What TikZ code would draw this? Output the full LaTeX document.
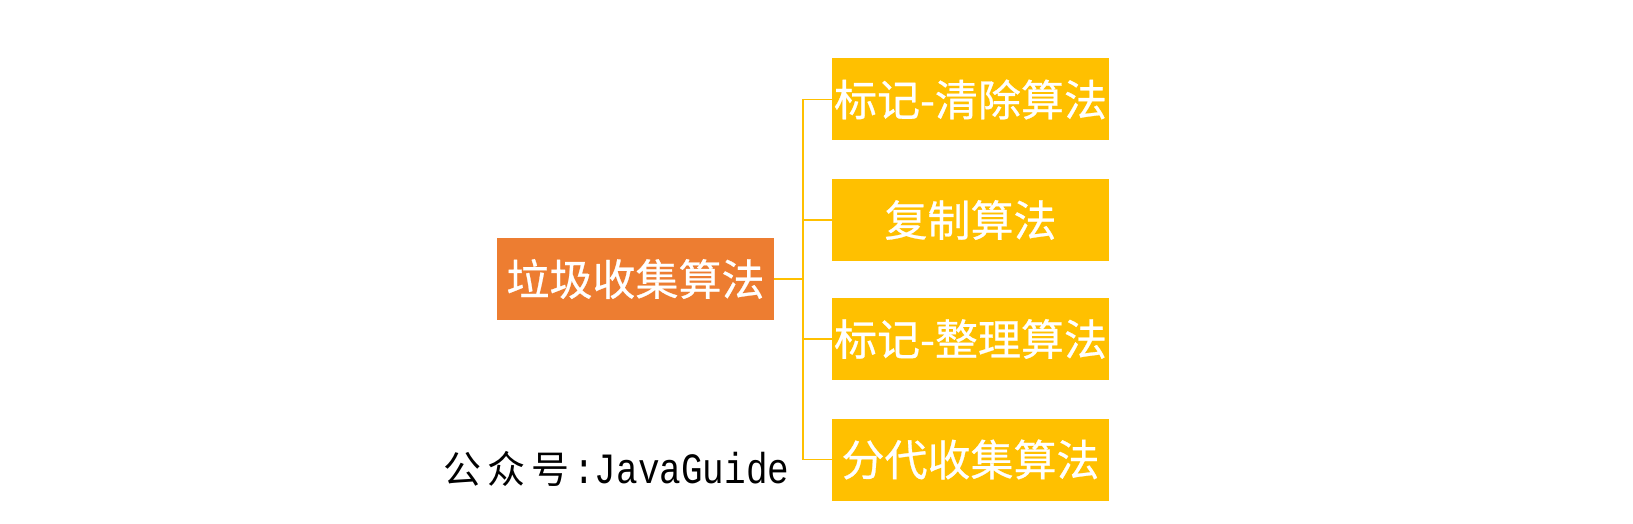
\documentclass[tikz,border=0pt]{standalone}
\usepackage{fontspec}
\setmainfont{Noto Sans CJK SC}
\newfontfamily\cjkfont[FakeBold=0.6]{Noto Sans CJK SC}
\newfontfamily\wmcjkfont{Noto Sans CJK SC}
\newfontfamily\monofont{Liberation Mono}
\definecolor{rootorange}{HTML}{ED7D31}
\definecolor{leafyellow}{HTML}{FFC000}
\definecolor{linkyellow}{HTML}{FFC000}
\tikzset{
  box/.style={minimum width=277pt, minimum height=82pt, inner sep=0pt, text=white,
    font=\cjkfont\fontsize{43}{43}\selectfont},
  rootbox/.style={box, fill=rootorange},
  leafbox/.style={box, fill=leafyellow},
  link/.style={draw=linkyellow, line width=1.8pt}
}
\begin{document}
\begin{tikzpicture}[x=1pt,y=-1pt]
\useasboundingbox (0,0) rectangle (1633,524);
\node[rootbox] (root) at (635.5,279) {垃圾收集算法};
\node[leafbox] (c1) at (970.5,99.5) {标记-清除算法};
\node[leafbox] (c2) at (970.5,220) {复制算法};
\node[leafbox] (c3) at (970.5,339) {标记-整理算法};
\node[leafbox] (c4) at (970.5,459.5) {分代收集算法};
\coordinate (bus) at (803,279);
\draw[link] (root.east) -- (bus);
\draw[link] (bus |- c1.west) -- (bus |- c4.west);
\draw[link] (bus |- c1.west) -- (c1.west);
\draw[link] (bus |- c2.west) -- (c2.west);
\draw[link] (bus |- c3.west) -- (c3.west);
\draw[link] (bus |- c4.west) -- (c4.west);
\node[anchor=base west, inner sep=0pt, text=black] (wm) at (443,483)
  {\wmcjkfont\fontsize{38}{38}\selectfont 公\hspace{6pt}众\hspace{6pt}号\hspace{4pt}\monofont\fontsize{36}{36}\selectfont\scalebox{1}[1.2]{:JavaGuide}};
\end{tikzpicture}
\end{document}
